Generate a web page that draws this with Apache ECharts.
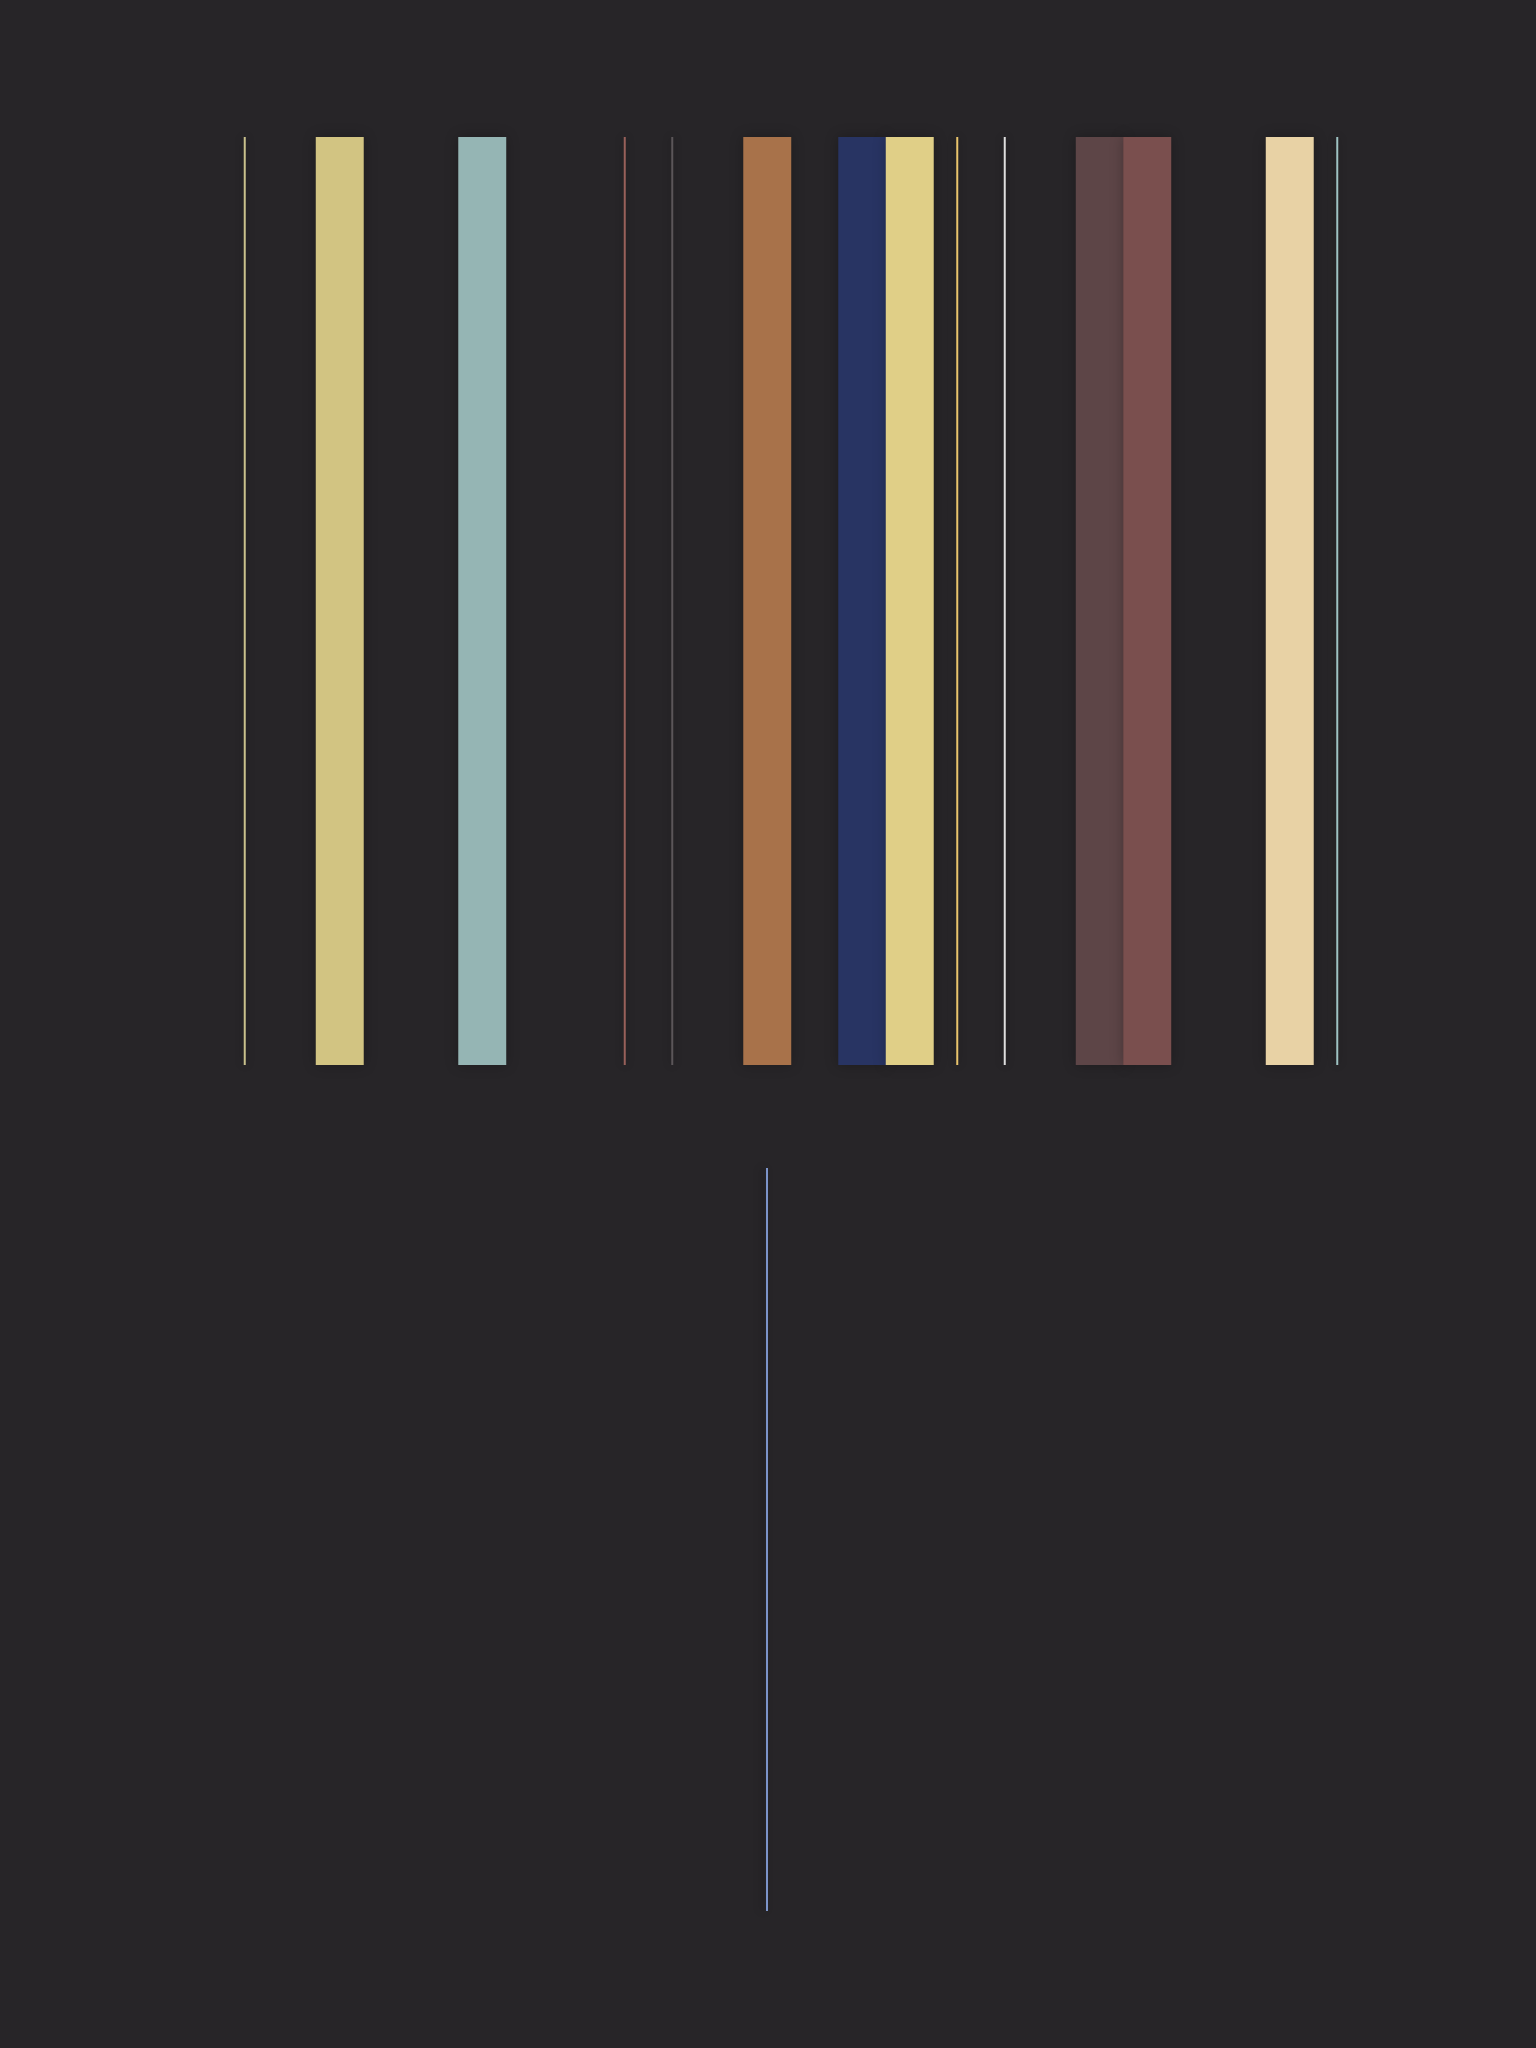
<!DOCTYPE html>
<html>
<head>
<meta charset="utf-8">
<script src="https://cdn.jsdelivr.net/npm/echarts@6/dist/echarts.min.js"></script>
<style>
html,body{margin:0;padding:0;background:#272528;}
#chart{width:1536px;height:2048px;}
</style>
</head>
<body>
<div id="chart"></div>
<script>
var categories = ['S1','S2','S3','S4','S5','S6','S7','S8','S9','S10','S11','S12','S13','S14','S15','S16','S17','S18','S19','S20','S21','S22','S23','S24'];
var wideValues = [null,null,1,null,null,1,null,null,null,null,null,1,null,1,1,null,null,null,1,1,null,null,1,null];
var thinValues = [1,null,null,null,null,null,null,null,1,1,null,null,null,null,null,1,1,null,null,null,null,null,null,1];
var slotColors = ['#c9c18c','#000','#d2c482','#000','#000','#95b5b4','#000','#000','#98605a','#5b5659','#000','#a8724a','#000','#283463','#e0cf87','#e9c46c','#dedede','#000','#5d4547','#7a4f4e','#000','#000','#e8d2a5','#9ec2c2'];
var bottomCategories = ['B1'];
var bottomValues = [1];
var bottomColors = ['#7c94c9'];

function items(vals, cols) {
  return vals.map(function (v, i) {
    return v == null ? null : { value: v, itemStyle: { color: cols[i] } };
  });
}

var chart = echarts.init(document.getElementById('chart'));
chart.setOption({
  backgroundColor: '#272528',
  animation: false,
  grid: [
    { left: 221, top: 137, width: 1140, height: 928 },
    { left: 221, top: 1168, width: 1092, height: 743 }
  ],
  xAxis: [
    { type: 'category', gridIndex: 0, data: categories, show: false },
    { type: 'category', gridIndex: 0, data: categories, show: false },
    { type: 'category', gridIndex: 1, data: bottomCategories, show: false }
  ],
  yAxis: [
    { type: 'value', gridIndex: 0, min: 0, max: 1, show: false },
    { type: 'value', gridIndex: 1, min: 0, max: 1, show: false }
  ],
  series: [
    {
      type: 'bar', xAxisIndex: 0, yAxisIndex: 0, barWidth: '101%',
      data: items(wideValues, slotColors),
      itemStyle: { shadowBlur: 12, shadowColor: 'rgba(0,0,0,0.25)' }
    },
    {
      type: 'bar', xAxisIndex: 1, yAxisIndex: 0, barWidth: 2,
      data: items(thinValues, slotColors),
      itemStyle: { shadowBlur: 8, shadowColor: 'rgba(0,0,0,0.3)' }
    },
    {
      type: 'bar', xAxisIndex: 2, yAxisIndex: 1, barWidth: 2,
      data: items(bottomValues, bottomColors),
      itemStyle: { shadowBlur: 8, shadowColor: 'rgba(0,0,0,0.3)', shadowOffsetX: -4 }
    }
  ]
});
</script>
</body>
</html>
